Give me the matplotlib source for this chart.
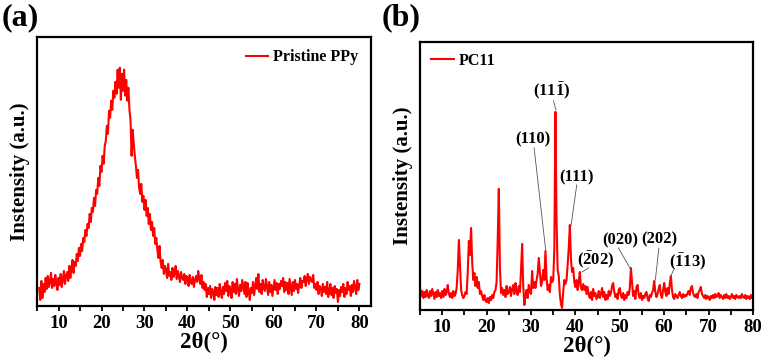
import numpy as np
import matplotlib
matplotlib.use("Agg")
import matplotlib.pyplot as plt

plt.rcParams['font.family'] = ['Liberation Serif', 'DejaVu Serif']
plt.rcParams['font.weight'] = 'bold'
plt.rcParams['mathtext.fontset'] = 'custom'
plt.rcParams['mathtext.rm'] = 'Liberation Serif:bold'
plt.rcParams['mathtext.bf'] = 'Liberation Serif:bold'
plt.rcParams['mathtext.it'] = 'Liberation Serif:bold'

# ---------------- data: panel (a) Pristine PPy, 2theta from 5.5 step 0.25 ----------------
ppy_start, ppy_step = 5.5, 0.25
ppy_intensity = [
    18, 6,
    25, 8, 22, 14,   28, 17, 30, 19,   24, 33, 18, 27,   20, 31, 23, 16,
    28, 21, 32, 19,  26, 35, 22, 30,   34, 25, 40, 28,   38, 46, 33, 44,
    40, 52, 45, 58,  50, 62, 55, 68,   64, 76, 70, 82,   78, 92, 84, 98,
    94, 108, 100, 116, 112, 128, 120, 140, 134, 150, 142, 160, 165, 180, 172, 195,
    188, 205, 196, 215, 208, 224, 212, 236, 218, 238, 206, 232, 215, 236, 210, 226,
    205, 218, 196, 186, 150, 176, 162, 150, 140, 128, 136, 118, 112, 122, 104, 110,
    96, 106, 90, 98,  82, 92, 76, 84,   70, 78, 62, 68,   56, 48, 60, 44,
    38, 46, 32, 40,  36, 28, 42, 30,   34, 26, 38, 29,   32, 40, 27, 35,
    30, 24, 34, 28,  26, 32, 22, 30,   28, 20, 31, 24,   22, 29, 19, 26,
    30, 24, 35, 27,  22, 31, 18, 24,   16, 22, 9, 18,    12, 20, 8, 17,
    14, 6, 19, 11,   18, 9, 22, 13,    8, 19, 12, 23,    15, 25, 10, 20,
    17, 8, 24, 14,   22, 12, 27, 16,   10, 21, 15, 26,   19, 12, 24, 9,
    23, 15, 6, 18,   13, 24, 11, 20,   28, 17, 32, 14,   22, 12, 26, 18,
    15, 27, 19, 11,  24, 14, 21, 10,   18, 26, 16, 23,   12, 22, 17, 25,
    20, 28, 14, 24,  16, 23, 12, 27,   19, 11, 24, 15,   26, 17, 22, 13,
    21, 28, 18, 25,  24, 30, 20, 27,   32, 22, 29, 26,   24, 31, 18, 22,
    16, 24, 12, 20,  18, 10, 22, 14,   19, 12, 24, 9,    15, 22, 11, 18,
    8, 20, 13, 17,   4, 16, 10, 19,    14, 22, 9, 18,    12, 24, 16, 20,
    10, 21, 14, 25,  18, 12, 26, 16,
    22,
]

# ---------------- data: panel (b) PC11, 2theta from 5.0 step 0.25 ----------------
pc_start, pc_step = 5.0, 0.25
pc_intensity = [
    22, 14, 19, 12,  18, 13, 20, 15,  12, 19, 14, 21,  16, 11, 18, 13,
    20, 14, 17, 12,  19, 13, 21, 15,  18, 25, 16, 13,  17, 12, 19, 14,
    16, 22, 40, 70,  45, 20, 15, 12,  14, 18, 16, 38,  69, 55, 82, 48,
    30, 37, 24, 33,  22, 28, 16, 19,  14, 10, 15, 9,   8, 12, 7, 13,
    10, 15, 12, 18,  20, 28, 70, 121, 42, 17, 22, 15,  20, 13, 24, 16,
    18, 23, 14, 21,  25, 16, 27, 19,  15, 24, 18, 40,  66, 24, 5, 14,
    20, 12, 25, 18,  16, 39, 22, 28,  22, 30, 36, 52,  38, 24, 28, 40,
    30, 59, 32, 20,  25, 18, 33, 28,  30, 60, 198, 90, 40, 34, 15, 6,
    2, 18, 30, 26,   30, 45, 62, 85,  50, 38, 42, 28,  23, 30, 20, 28,
    38, 22, 20, 26,  20, 24, 16, 23,  15, 12, 18, 10,  21, 14, 17, 11,
    13, 19, 12, 16,  22, 13, 18, 10,  15, 11, 19, 14,  17, 24, 27, 18,
    13, 16, 11, 20,  22, 14, 12, 17,  10, 15, 12, 18,  15, 22, 42, 28,
    14, 19, 11, 23,  25, 15, 12, 17,  10, 14, 12, 16,  18, 12, 9, 15,
    13, 17, 20, 29,  18, 13, 16, 21,  25, 15, 12, 20,  27, 18, 14, 22,
    16, 26, 34, 20,  13, 11, 16, 14,  12, 15, 18, 14,  12, 16, 13, 15,
    14, 17, 19, 15,  22, 24, 17, 14,  13, 16, 12, 18,  20, 23, 16, 14,
    12, 15, 11, 14,  13, 10, 14, 12,  15, 12, 16, 13,  14, 17, 12, 15,
    13, 11, 15, 12,  16, 12, 14, 11,  13, 16, 12, 14,  11, 15, 13, 12,
    14, 12, 16, 13,  12, 15, 11, 14,  13, 11, 15, 12,
    14,
]

# peak labels (text, text position, leader line start/end)
peak_labels = [r'(11$\mathbf{\bar{1}}$)', '(110)', '(111)', r'($\mathbf{\bar{2}}$02)',
               '(020)', '(202)', r'($\mathbf{\bar{1}}$13)']
label_pos = [(34.7, 218), (30.5, 170), (40.3, 133), (44.5, 50), (50.1, 70), (58.8, 71), (65.2, 48)]
leader_lines = [((35.05, 209), (35.6, 200)), ((30.7, 162), (33.3, 60)), ((40.3, 125), (39.0, 84)),
                ((43.0, 42), (41.5, 38)), ((49.7, 62), (52.4, 41)), ((58.8, 62), (58.0, 30)),
                ((62.1, 40), (61.6, 35))]

ppy_x = ppy_start + ppy_step * np.arange(len(ppy_intensity))
pc_x = pc_start + pc_step * np.arange(len(pc_intensity))

fig = plt.figure(figsize=(7.62, 3.62), dpi=100)
axA = fig.add_axes([0.0486, 0.1547, 0.4383, 0.744])
axB = fig.add_axes([0.5512, 0.1436, 0.4370, 0.741])

red = '#ff0000'
axA.plot(ppy_x, ppy_intensity, color=red, lw=1.5, label='Pristine PPy')
axB.plot(pc_x, pc_intensity, color=red, lw=1.5, label='PC11')

axA.set_xlim(5.3, 82.7)
axA.set_ylim(0, 269)
axB.set_xlim(5, 80)
axB.set_ylim(0, 268)

for ax in (axA, axB):
    ax.set_xticks(np.arange(10, 81, 10))
    ax.set_xticks(np.arange(5, 81, 5), minor=True)
    ax.set_yticks([])
    ax.tick_params(axis='x', which='both', direction='out', length=3.5, width=1.3,
                   labelsize=13.5, pad=3)
    for lab in ax.get_xticklabels():
        lab.set_fontweight('bold')
    for sp in ax.spines.values():
        sp.set_linewidth(1.6)
    ax.set_xlabel('2θ(°)', fontsize=16.5, fontweight='bold', labelpad=0)
    ax.set_ylabel('Instensity (a.u.)', fontsize=15, fontweight='bold', labelpad=5)

axA.legend(loc='upper right', frameon=False, handlelength=1.4,
           handletextpad=0.3, borderaxespad=0.4, prop={'weight': 'bold', 'size': 11.5})
axB.legend(loc='upper left', frameon=False, handlelength=1.4,
           handletextpad=0.3, borderaxespad=0.3, prop={'weight': 'bold', 'size': 11.5})

for txt, (tx, ty), ((x0, y0), (x1, y1)) in zip(peak_labels, label_pos, leader_lines):
    axB.text(tx, ty, txt, ha='center', va='center', fontsize=12, fontweight='bold')
    axB.plot([x0, x1], [y0, y1], color='#555555', lw=0.6)

fig.text(0.002, 0.952, '(a)', fontsize=23, fontweight='bold', va='center', ha='left')
fig.text(0.501, 0.952, '(b)', fontsize=23, fontweight='bold', va='center', ha='left')

fig.savefig('out.png', dpi=100)
